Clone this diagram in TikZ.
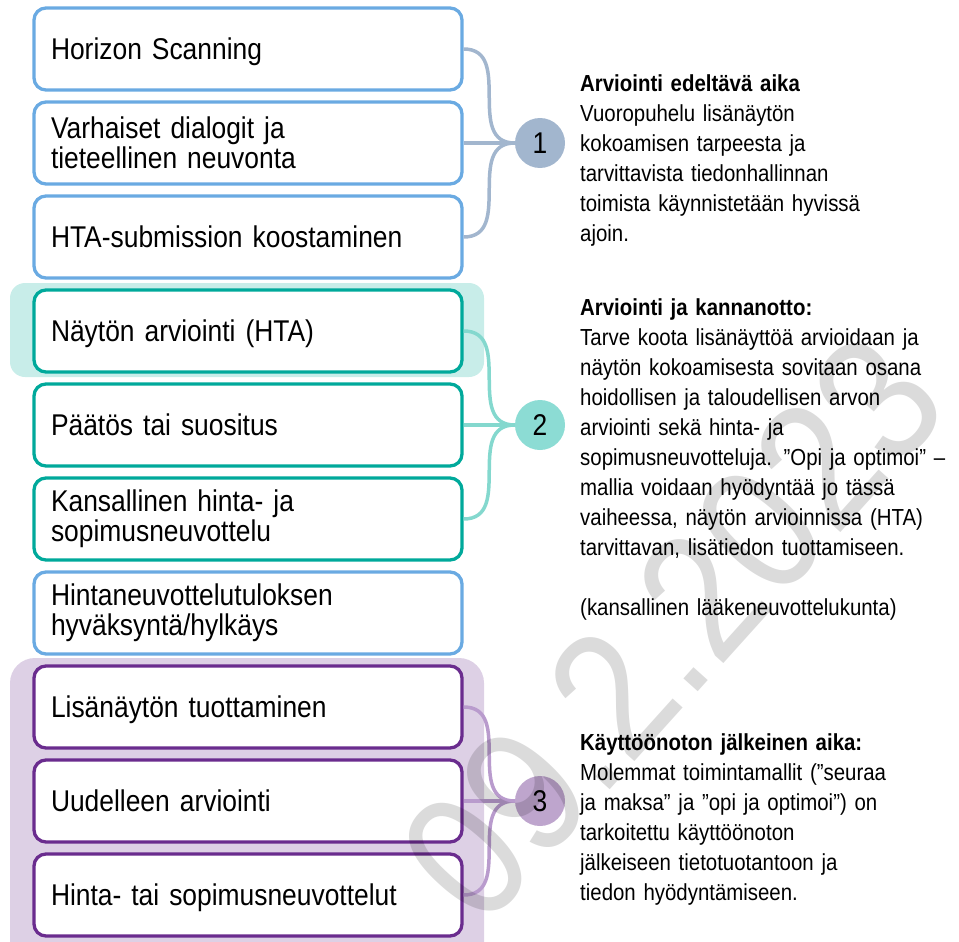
\documentclass[tikz,border=0pt]{standalone}
\usepackage{fontspec}
\setmainfont{Liberation Sans}[FakeStretch=0.88]
\usetikzlibrary{positioning}
\definecolor{cblue}{HTML}{6AAAE2}
\definecolor{cteal}{HTML}{00A99B}
\definecolor{cviolet}{HTML}{6A2C8E}
\definecolor{lteal}{HTML}{C8EDE9}
\definecolor{lviolet}{HTML}{DDD0E5}
\definecolor{dgrey}{HTML}{A2B6CE}
\definecolor{dteal}{HTML}{8CDCD4}
\definecolor{dviolet}{HTML}{BEA5CD}
\definecolor{kteal}{HTML}{84D8CE}
\definecolor{kviolet}{HTML}{B99BCD}
\tikzset{
  every picture/.style={font=\fontsize{30}{30}\selectfont},
  bx/.style={draw,line width=3.3pt,fill=white,rounded corners=12pt,minimum height=82pt,
    text width=394pt,inner xsep=17pt,inner ysep=0pt,align=left},
  bxb/.style={bx,draw=cblue},
  bxt/.style={bx,draw=cteal},
  bxv/.style={bx,draw=cviolet},
  one/.style={text depth=0pt},
  num/.style={circle,minimum size=50pt,inner sep=0pt},
  lnk/.style={line width=3.5pt},
  txt/.style={anchor=base west,text width=375pt,align=left,inner sep=0pt,
    font=\fontsize{23.2}{30}\selectfont},
}

\begin{document}
\begin{tikzpicture}[x=1pt,y=-1pt]
  \useasboundingbox (0,0) rectangle (959,942);
  % highlights behind the boxes
  \fill[lteal,rounded corners=15pt] (10,283) rectangle (484,377);
  \fill[lviolet,rounded corners=25pt] (10,658) rectangle (484,990);

  \node[bxb,one] (b1) at (248,49) {Horizon Scanning};
  \node[bxb] (b2) at (248,143) {Varhaiset dialogit ja\\tieteellinen neuvonta};
  \node[bxb,one] (b3) at (248,237) {HTA-submission koostaminen};
  \node[bxt,one] (b4) at (248,331) {Näytön arviointi (HTA)};
  \node[bxt,one] (b5) at (248,425) {Päätös tai suositus};
  \node[bxt] (b6) at (248,519) {Kansallinen hinta- ja\\sopimusneuvottelu};
  \node[bxb] (b7) at (248,613) {Hintaneuvottelutuloksen\\hyväksyntä/hylkäys};
  \node[bxv,one] (b8) at (248,707) {Lisänäytön tuottaminen};
  \node[bxv,one] (b9) at (248,801) {Uudelleen arviointi};
  \node[bxv,one] (b10) at (248,895) {Hinta- tai sopimusneuvottelut};

  \node[num,fill=dgrey] (c1) at (540,143) {1};
  \node[num,fill=dteal] (c2) at (540,425) {2};
  \node[num,fill=dviolet] (c3) at (540,801) {3};

  \foreach \b in {b1,b2,b3}
    \draw[lnk,dgrey] (\b.east) to[out=0,in=180,looseness=1.2] (c1.west);
  \foreach \b in {b4,b5,b6}
    \draw[lnk,kteal] (\b.east) to[out=0,in=180,looseness=1.2] (c2.west);
  \foreach \b in {b8,b9,b10}
    \draw[lnk,kviolet] (\b.east) to[out=0,in=180,looseness=1.2] (c3.west);

  \node[txt] (t1) at (580,92) {\textbf{Arviointi edeltävä aika}\\
    Vuoropuhelu lisänäytön\\
    kokoamisen tarpeesta ja\\
    tarvittavista tiedonhallinnan\\
    toimista käynnistetään hyvissä\\
    ajoin.};
  \node[txt] (t2) at (580,315) {\textbf{Arviointi ja kannanotto:}\\
    Tarve koota lisänäyttöä arvioidaan ja\\
    näytön kokoamisesta sovitaan osana\\
    hoidollisen ja taloudellisen arvon\\
    arviointi sekä hinta- ja\\
    sopimusneuvotteluja. ”Opi ja optimoi” --\\
    mallia voidaan hyödyntää jo tässä\\
    vaiheessa, näytön arvioinnissa (HTA)\\
    tarvittavan, lisätiedon tuottamiseen.\\[30pt]
    (kansallinen lääkeneuvottelukunta)};
  \node[txt] (t3) at (580,750) {\textbf{Käyttöönoton jälkeinen aika:}\\
    Molemmat toimintamallit (”seuraa\\
    ja maksa” ja ”opi ja optimoi”) on\\
    tarkoitettu käyttöönoton\\
    jälkeiseen tietotuotantoon ja\\
    tiedon hyödyntämiseen.};

  % watermark
  \node[rotate=48,text=black,text opacity=0.14,font=\fontsize{180}{180}\selectfont]
    (wm) at (672,628) {09.2.2023};
\end{tikzpicture}
\end{document}
